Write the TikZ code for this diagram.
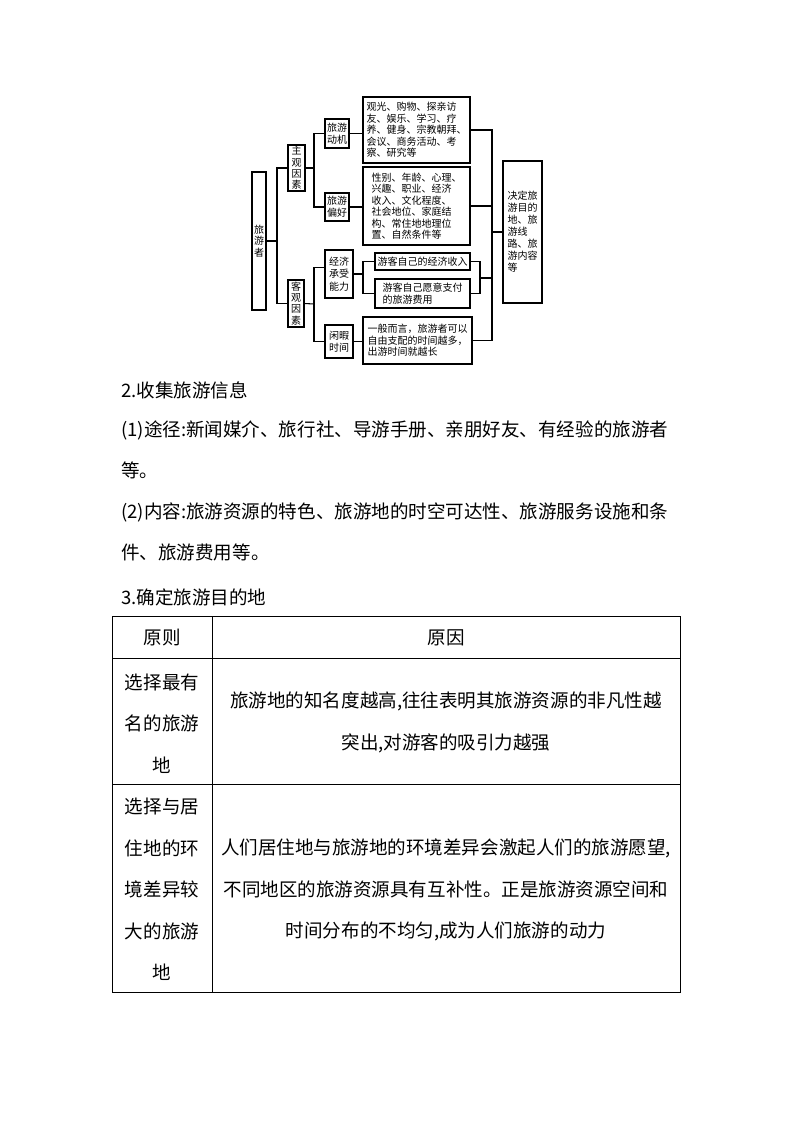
\documentclass[tikz,border=0pt]{standalone}
\usepackage{fontspec}
\setmainfont{Noto Sans CJK SC}
\usetikzlibrary{positioning}

\begin{document}
\begin{tikzpicture}[x=0.75pt, y=-0.75pt,
    box/.style={rectangle, draw, line width=0.8pt, inner sep=0pt, align=center,
                font=\fontsize{7.5}{9.2}\selectfont},
    textbox/.style={box, align=left, font=\fontsize{7.5}{8.6}\selectfont},
    vtext/.style={box, font=\fontsize{7.5}{8.4}\selectfont},
    para/.style={anchor=west, inner sep=0pt, font=\fontsize{13.9}{16}\selectfont},
    cell/.style={align=center, inner sep=0pt, font=\fontsize{13.9}{31.1}\selectfont},
    link/.style={line width=0.8pt}]
  \useasboundingbox (0,0) rectangle (794,1123);
  \node[vtext, minimum width=10.5pt, minimum height=103.5pt] (lyz) at (259,241) {旅\\游\\者};
  \node[vtext, minimum width=12.75pt, minimum height=34.5pt] (zg) at (296.5,168) {主\\观\\因\\素};
  \node[vtext, minimum width=12pt, minimum height=35.25pt] (kg) at (296,303.5) {客\\观\\因\\素};
  \node[box, minimum width=18pt, minimum height=21.75pt] (dj) at (337,133.5) {旅游\\动机};
  \node[box, minimum width=18pt, minimum height=21pt] (ph) at (337,207) {旅游\\偏好};
  \node[box, minimum width=21pt, minimum height=36pt] (jj) at (339,274) {经济\\承受\\能力};
  \node[box, minimum width=21pt, minimum height=24.75pt] (xx) at (339,341.5) {闲暇\\时间};
  \node[textbox, minimum width=80.25pt, minimum height=49.5pt] (nr1) at (416.5,130)
    {观光、购物、探亲访\\友、娱乐、学习、疗\\养、健身、宗教朝拜、\\会议、商务活动、考\\察、研究等};
  \node[textbox, minimum width=80.25pt, minimum height=58.5pt] (nr2) at (416.5,206)
    {性别、年龄、心理、\\兴趣、职业、经济\\收入、文化程度、\\社会地位、家庭结\\构、常住地地理位\\置、自然条件等};
  \node[box, minimum width=71.25pt, minimum height=12.75pt] (sr) at (422.5,261.5) {游客自己的经济收入};
  \node[textbox, minimum width=71.25pt, minimum height=21.75pt] (fy) at (422.5,293.5) {游客自己愿意支付\\的旅游费用};
  \node[textbox, minimum width=81.75pt, minimum height=35.25pt] (sj) at (417.5,340.5)
    {一般而言，旅游者可以\\自由支配的时间越多，\\出游时间就越长};
  \node[textbox, font=\fontsize{7.5}{9}\selectfont, minimum width=29.25pt, minimum height=106.5pt] (jd) at (522.5,232)
    {决定旅\\游目的\\地、旅\\游线\\路、旅\\游内容\\等};
  \coordinate (b1) at (277,241);
  \coordinate (b2) at (314,168);
  \coordinate (b3) at (314,304);
  \coordinate (b4) at (363,274);
  \coordinate (b5) at (480,278);
  \coordinate (b6) at (492,232);
  \draw[link] (lyz.east) -- (b1);
  \draw[link] (zg.west) -| (b1) |- (kg.west);
  \draw[link] (zg.east) -- (b2);
  \draw[link] (dj.west) -| (b2) |- (ph.west);
  \draw[link] (kg.east) -- (b3);
  \draw[link] ([yshift=5pt]jj.west) -| (b3) |- (xx.west);
  \draw[link] (dj.east) -- (dj.east -| nr1.west);
  \draw[link] (ph.east) -- (ph.east -| nr2.west);
  \draw[link] (jj.east) -- (b4);
  \draw[link] (sr.west) -| (b4) |- (fy.west);
  \draw[link] (xx.east) -- (xx.east -| sj.west);
  \draw[link] (sr.east) -| (b5) |- (fy.east);
  \draw[link] (b5) -- (b5 -| b6);
  \draw[link] (nr1.east) -| (b6) |- (sj.east);
  \draw[link] (nr2.east) -- (nr2.east -| b6);
  \draw[link] (b6) -- (jd.west);
  \node[para] (t2) at (121,390) {2.收集旅游信息};
  \node[para] (t21a) at (121,430) {(1)途径:新闻媒介、旅行社、导游手册、亲朋好友、有经验的旅游者};
  \node[para] (t21b) at (121,470) {等。};
  \node[para] (t22a) at (121,512) {(2)内容:旅游资源的特色、旅游地的时空可达性、旅游服务设施和条};
  \node[para] (t22b) at (121,552) {件、旅游费用等。};
  \node[para] (t3) at (121,597) {3.确定旅游目的地};
  \draw[line width=0.75pt] (112,616) rectangle (680,992);
  \draw[line width=0.75pt] (212,616) -- (212,992);
  \draw[line width=0.75pt] (112,658) -- (680,658);
  \draw[line width=0.75pt] (112,784) -- (680,784);
  \node[cell] (h1) at (162,638) {原则};
  \node[cell] (h2) at (446,638) {原因};
  \node[cell] (r1a) at (162,723.5) {选择最有\\名的旅游\\地};
  \node[cell] (r1b) at (446,722.5) {旅游地的知名度越高,往往表明其旅游资源的非凡性越\\突出,对游客的吸引力越强};
  \node[cell] (r2a) at (162,889.5) {选择与居\\住地的环\\境差异较\\大的旅游\\地};
  \node[cell] (r2b) at (446,890) {人们居住地与旅游地的环境差异会激起人们的旅游愿望,\\不同地区的旅游资源具有互补性。正是旅游资源空间和\\时间分布的不均匀,成为人们旅游的动力};
\end{tikzpicture}
\end{document}
